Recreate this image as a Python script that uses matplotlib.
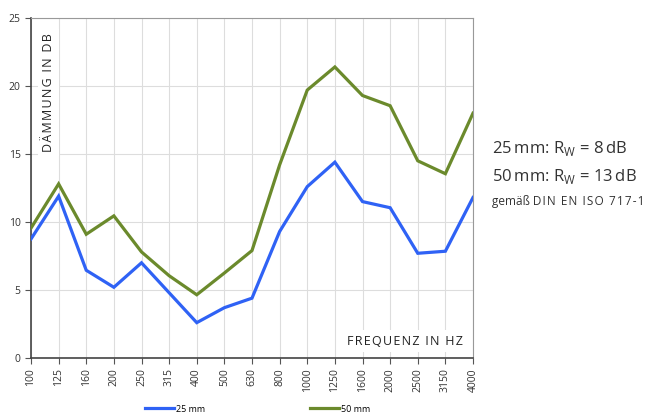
import matplotlib.pyplot as plt
import numpy as np

freqs = ['100', '125', '160', '200', '250', '315', '400', '500', '630', '800',
         '1000', '1250', '1600', '2000', '2500', '3150', '4000']
mm25 = [8.75, 11.9, 6.45, 5.2, 7.0, 4.8, 2.6, 3.7, 4.4, 9.3,
        12.6, 14.4, 11.5, 11.05, 7.7, 7.85, 11.8]
mm50 = [9.55, 12.8, 9.1, 10.45, 7.8, 6.05, 4.65, 6.25, 7.9, 14.2,
        19.7, 21.4, 19.3, 18.55, 14.5, 13.55, 18.0]

plt.rcParams['font.family'] = ['Open Sans', 'DejaVu Sans']


def spaced(s):
    # hair spaces between letters to imitate the wide tracking
    return '\u200a'.join(s)


fig = plt.figure(figsize=(6.71, 4.15), dpi=100)
ax = fig.add_axes([31/671, 1 - 358/415, 442/671, 340/415])

x = np.arange(len(freqs))
l1, = ax.plot(x, mm25, color='#2f62f5', lw=2.3, solid_joinstyle='miter', label='25 mm', zorder=3)
l2, = ax.plot(x, mm50, color='#6b8a2c', lw=2.3, solid_joinstyle='miter', label='50 mm', zorder=3)

ax.set_xlim(0, len(freqs) - 1)
ax.set_ylim(0, 25)
ax.set_xticks(x)
ax.set_xticklabels(freqs, rotation=90, fontsize=7.5, color='#333333')
ax.set_yticks([0, 5, 10, 15, 20, 25])
ax.tick_params(axis='y', labelsize=7.5, labelcolor='#333333', length=4, color='#555555')
ax.tick_params(axis='x', length=4, color='#555555')
ax.grid(True, color='#dddddd', lw=0.8, zorder=0)
ax.set_axisbelow(True)
for s in ['left', 'bottom']:
    ax.spines[s].set_color('#444444')
    ax.spines[s].set_linewidth(1.2)
for s in ['top', 'right']:
    ax.spines[s].set_color('#999999')

ax.text(0.04, 0.955, spaced('DÄMMUNG IN DB'), transform=ax.transAxes, rotation=90,
        ha='center', va='top', fontsize=9, color='#222222',
        bbox=dict(facecolor='white', edgecolor='none', pad=3), zorder=2)
ax.text(0.978, 0.05, spaced('FREQUENZ IN HZ'), transform=ax.transAxes,
        ha='right', va='center', fontsize=9, color='#222222',
        bbox=dict(facecolor='white', edgecolor='none', pad=3), zorder=2)

fig.text(492/671, 1 - 149/415, '25\u2009mm: R$_\\mathregular{W}$ = 8\u2009dB', fontsize=12,
         color='#333333', va='center')
fig.text(492/671, 1 - 176/415, '50\u2009mm: R$_\\mathregular{W}$ = 13\u2009dB', fontsize=12,
         color='#333333', va='center')
fig.text(492/671, 1 - 202/415, 'gemäß ' + spaced('DIN EN ISO 717-1'), fontsize=8.5,
         color='#333333', va='center')

fig.legend(handles=[l1, l2], loc='center', bbox_to_anchor=(0.384, 1 - 409/415),
           ncol=2, frameon=False, fontsize=6.5, handlelength=3.2, handletextpad=0.2,
           columnspacing=11.6)

fig.savefig('out.png', dpi=100)
